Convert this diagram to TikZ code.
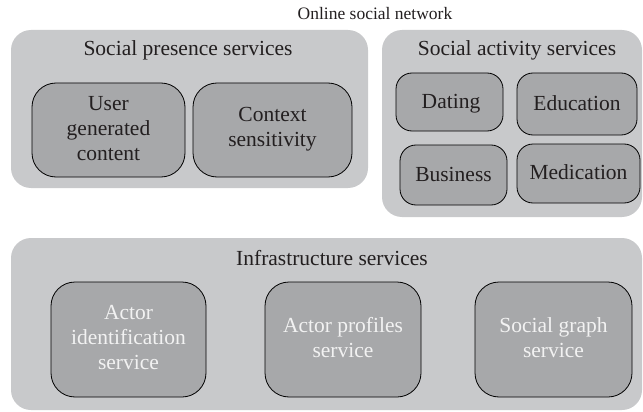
\documentclass[tikz,border=0pt]{standalone}
\usepackage{fontspec}
\setmainfont{Liberation Serif}
\definecolor{panelgray}{HTML}{C8C9CB}
\definecolor{boxgray}{HTML}{A7A8AA}
\definecolor{inkdark}{HTML}{231F20}
\definecolor{inklight}{HTML}{F2F2F2}
\begin{document}
\begin{tikzpicture}[x=1pt,y=-1pt,
  panel/.style={fill=panelgray,draw=none,rounded corners=20pt},
  svcbox/.style={fill=boxgray,draw=black,line width=0.8pt,rounded corners=24pt},
  toplbl/.style={font=\fontsize{17.5}{20}\selectfont,text=inkdark,align=center},
  lbl/.style={font=\fontsize{21.5}{25}\selectfont,text=inkdark,align=center},
  lbllight/.style={font=\fontsize{21.5}{25}\selectfont,text=inklight,align=center}]
\useasboundingbox (0,0) rectangle (643,412);

% outer title
\node[toplbl] (title) at (375,14) {Online social network};

% social presence group
\draw[panel] (11,30) rectangle (368,188);
\node[lbl] (sptitle) at (188,50) {Social presence services};
\draw[svcbox] (32,83) rectangle (185,177);
\node[lbl] (ugc) at (108.5,129) {User\\generated\\content};
\draw[svcbox] (193,83) rectangle (352,177);
\node[lbl] (ctx) at (272.5,129) {Context\\sensitivity};

% social activity group
\draw[panel] (382,30) rectangle (642,217);
\node[lbl] (satitle) at (517,50) {Social activity services};
\draw[svcbox,rounded corners=16pt] (396,73) rectangle (503,131);
\node[lbl] (dating) at (451,104) {Dating};
\draw[svcbox,rounded corners=16pt] (517,73) rectangle (637,135);
\node[lbl] (edu) at (577,103) {Education};
\draw[svcbox,rounded corners=16pt] (400,145) rectangle (507,205);
\node[lbl] (biz) at (453.5,174) {Business};
\draw[svcbox,rounded corners=16pt] (517,144) rectangle (640,203);
\node[lbl] (med) at (578.5,172) {Medication};

% infrastructure group
\draw[panel] (11,238) rectangle (642,410);
\node[lbl] (inftitle) at (332,258) {Infrastructure services};
\draw[svcbox] (51,282) rectangle (206,397);
\node[lbllight] (actid) at (128.5,338) {Actor\\identification\\service};
\draw[svcbox] (265,282) rectangle (421,397);
\node[lbllight] (actprof) at (343,338) {Actor profiles\\service};
\draw[svcbox] (475,282) rectangle (632,397);
\node[lbllight] (sgraph) at (553.5,338) {Social graph\\service};
\end{tikzpicture}
\end{document}
